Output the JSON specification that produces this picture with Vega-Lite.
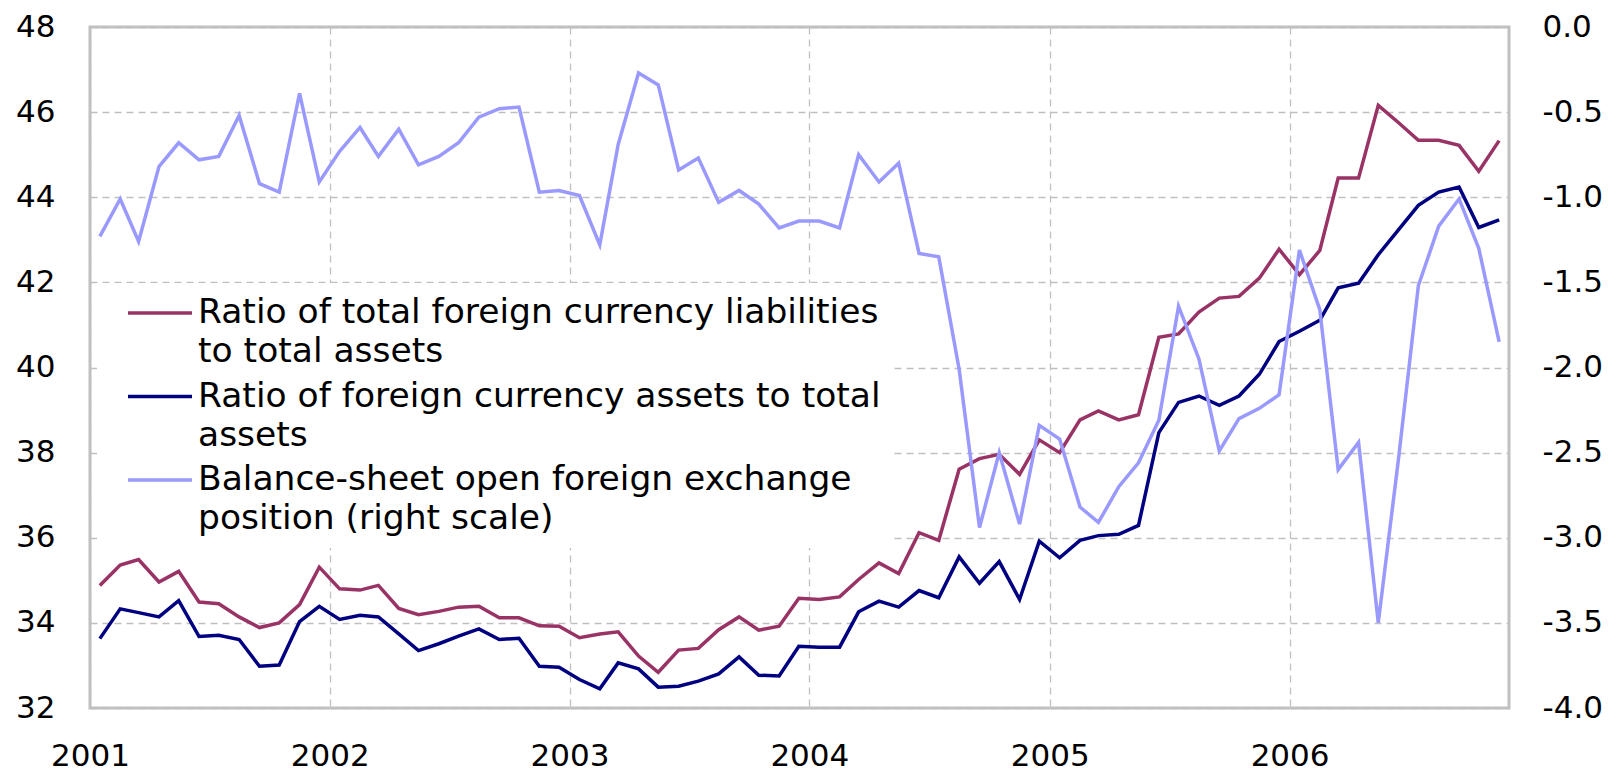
{
  "$schema": "https://vega.github.io/schema/vega-lite/v6.json",
  "width": 1419,
  "height": 681,
  "autosize": {"type": "none"},
  "padding": {"left": 90, "top": 27, "right": 107, "bottom": 66},
  "background": "white",
  "config": {
    "font": "DejaVu Sans",
    "view": {"stroke": "#c0c0c0", "strokeWidth": 3},
    "axis": {
      "labelFont": "DejaVu Sans",
      "labelFontSize": 31,
      "labelColor": "#000000",
      "domain": false,
      "ticks": false,
      "tickSize": 0,
      "title": null,
      "gridColor": "#c0c0c0",
      "gridDash": [7, 5],
      "gridWidth": 1.3
    }
  },
  "data": {
    "values": [
      {"date": "2001-01-16", "series": "liabilities", "value": 34.88},
      {"date": "2001-01-16", "series": "assets", "value": 33.63},
      {"date": "2001-01-16", "series": "open position", "value": -1.23},
      {"date": "2001-02-16", "series": "liabilities", "value": 35.36},
      {"date": "2001-02-16", "series": "assets", "value": 34.33},
      {"date": "2001-02-16", "series": "open position", "value": -1.01},
      {"date": "2001-03-16", "series": "liabilities", "value": 35.49},
      {"date": "2001-03-16", "series": "assets", "value": 34.24},
      {"date": "2001-03-16", "series": "open position", "value": -1.26},
      {"date": "2001-04-16", "series": "liabilities", "value": 34.96},
      {"date": "2001-04-16", "series": "assets", "value": 34.14},
      {"date": "2001-04-16", "series": "open position", "value": -0.82},
      {"date": "2001-05-16", "series": "liabilities", "value": 35.21},
      {"date": "2001-05-16", "series": "assets", "value": 34.52},
      {"date": "2001-05-16", "series": "open position", "value": -0.68},
      {"date": "2001-06-16", "series": "liabilities", "value": 34.49},
      {"date": "2001-06-16", "series": "assets", "value": 33.68},
      {"date": "2001-06-16", "series": "open position", "value": -0.78},
      {"date": "2001-07-16", "series": "liabilities", "value": 34.45},
      {"date": "2001-07-16", "series": "assets", "value": 33.71},
      {"date": "2001-07-16", "series": "open position", "value": -0.76},
      {"date": "2001-08-16", "series": "liabilities", "value": 34.14},
      {"date": "2001-08-16", "series": "assets", "value": 33.61},
      {"date": "2001-08-16", "series": "open position", "value": -0.52},
      {"date": "2001-09-16", "series": "liabilities", "value": 33.89},
      {"date": "2001-09-16", "series": "assets", "value": 32.98},
      {"date": "2001-09-16", "series": "open position", "value": -0.92},
      {"date": "2001-10-16", "series": "liabilities", "value": 34.0},
      {"date": "2001-10-16", "series": "assets", "value": 33.01},
      {"date": "2001-10-16", "series": "open position", "value": -0.97},
      {"date": "2001-11-16", "series": "liabilities", "value": 34.43},
      {"date": "2001-11-16", "series": "assets", "value": 34.03},
      {"date": "2001-11-16", "series": "open position", "value": -0.39},
      {"date": "2001-12-16", "series": "liabilities", "value": 35.31},
      {"date": "2001-12-16", "series": "assets", "value": 34.39},
      {"date": "2001-12-16", "series": "open position", "value": -0.91},
      {"date": "2002-01-16", "series": "liabilities", "value": 34.8},
      {"date": "2002-01-16", "series": "assets", "value": 34.08},
      {"date": "2002-01-16", "series": "open position", "value": -0.73},
      {"date": "2002-02-16", "series": "liabilities", "value": 34.77},
      {"date": "2002-02-16", "series": "assets", "value": 34.18},
      {"date": "2002-02-16", "series": "open position", "value": -0.59},
      {"date": "2002-03-16", "series": "liabilities", "value": 34.88},
      {"date": "2002-03-16", "series": "assets", "value": 34.14},
      {"date": "2002-03-16", "series": "open position", "value": -0.76},
      {"date": "2002-04-16", "series": "liabilities", "value": 34.34},
      {"date": "2002-04-16", "series": "assets", "value": 33.74},
      {"date": "2002-04-16", "series": "open position", "value": -0.6},
      {"date": "2002-05-16", "series": "liabilities", "value": 34.19},
      {"date": "2002-05-16", "series": "assets", "value": 33.35},
      {"date": "2002-05-16", "series": "open position", "value": -0.81},
      {"date": "2002-06-16", "series": "liabilities", "value": 34.27},
      {"date": "2002-06-16", "series": "assets", "value": 33.51},
      {"date": "2002-06-16", "series": "open position", "value": -0.76},
      {"date": "2002-07-16", "series": "liabilities", "value": 34.37},
      {"date": "2002-07-16", "series": "assets", "value": 33.69},
      {"date": "2002-07-16", "series": "open position", "value": -0.68},
      {"date": "2002-08-16", "series": "liabilities", "value": 34.39},
      {"date": "2002-08-16", "series": "assets", "value": 33.86},
      {"date": "2002-08-16", "series": "open position", "value": -0.53},
      {"date": "2002-09-16", "series": "liabilities", "value": 34.12},
      {"date": "2002-09-16", "series": "assets", "value": 33.61},
      {"date": "2002-09-16", "series": "open position", "value": -0.48},
      {"date": "2002-10-16", "series": "liabilities", "value": 34.12},
      {"date": "2002-10-16", "series": "assets", "value": 33.64},
      {"date": "2002-10-16", "series": "open position", "value": -0.47},
      {"date": "2002-11-16", "series": "liabilities", "value": 33.93},
      {"date": "2002-11-16", "series": "assets", "value": 32.98},
      {"date": "2002-11-16", "series": "open position", "value": -0.97},
      {"date": "2002-12-16", "series": "liabilities", "value": 33.92},
      {"date": "2002-12-16", "series": "assets", "value": 32.96},
      {"date": "2002-12-16", "series": "open position", "value": -0.96},
      {"date": "2003-01-16", "series": "liabilities", "value": 33.65},
      {"date": "2003-01-16", "series": "assets", "value": 32.67},
      {"date": "2003-01-16", "series": "open position", "value": -0.99},
      {"date": "2003-02-16", "series": "liabilities", "value": 33.74},
      {"date": "2003-02-16", "series": "assets", "value": 32.45},
      {"date": "2003-02-16", "series": "open position", "value": -1.28},
      {"date": "2003-03-16", "series": "liabilities", "value": 33.79},
      {"date": "2003-03-16", "series": "assets", "value": 33.06},
      {"date": "2003-03-16", "series": "open position", "value": -0.69},
      {"date": "2003-04-16", "series": "liabilities", "value": 33.22},
      {"date": "2003-04-16", "series": "assets", "value": 32.92},
      {"date": "2003-04-16", "series": "open position", "value": -0.27},
      {"date": "2003-05-16", "series": "liabilities", "value": 32.84},
      {"date": "2003-05-16", "series": "assets", "value": 32.49},
      {"date": "2003-05-16", "series": "open position", "value": -0.34},
      {"date": "2003-06-16", "series": "liabilities", "value": 33.36},
      {"date": "2003-06-16", "series": "assets", "value": 32.51},
      {"date": "2003-06-16", "series": "open position", "value": -0.84},
      {"date": "2003-07-16", "series": "liabilities", "value": 33.4},
      {"date": "2003-07-16", "series": "assets", "value": 32.63},
      {"date": "2003-07-16", "series": "open position", "value": -0.77},
      {"date": "2003-08-16", "series": "liabilities", "value": 33.84},
      {"date": "2003-08-16", "series": "assets", "value": 32.8},
      {"date": "2003-08-16", "series": "open position", "value": -1.03},
      {"date": "2003-09-16", "series": "liabilities", "value": 34.14},
      {"date": "2003-09-16", "series": "assets", "value": 33.2},
      {"date": "2003-09-16", "series": "open position", "value": -0.96},
      {"date": "2003-10-16", "series": "liabilities", "value": 33.83},
      {"date": "2003-10-16", "series": "assets", "value": 32.77},
      {"date": "2003-10-16", "series": "open position", "value": -1.04},
      {"date": "2003-11-16", "series": "liabilities", "value": 33.92},
      {"date": "2003-11-16", "series": "assets", "value": 32.75},
      {"date": "2003-11-16", "series": "open position", "value": -1.18},
      {"date": "2003-12-16", "series": "liabilities", "value": 34.58},
      {"date": "2003-12-16", "series": "assets", "value": 33.45},
      {"date": "2003-12-16", "series": "open position", "value": -1.14},
      {"date": "2004-01-16", "series": "liabilities", "value": 34.55},
      {"date": "2004-01-16", "series": "assets", "value": 33.43},
      {"date": "2004-01-16", "series": "open position", "value": -1.14},
      {"date": "2004-02-16", "series": "liabilities", "value": 34.61},
      {"date": "2004-02-16", "series": "assets", "value": 33.43},
      {"date": "2004-02-16", "series": "open position", "value": -1.18},
      {"date": "2004-03-16", "series": "liabilities", "value": 35.02},
      {"date": "2004-03-16", "series": "assets", "value": 34.26},
      {"date": "2004-03-16", "series": "open position", "value": -0.75},
      {"date": "2004-04-16", "series": "liabilities", "value": 35.41},
      {"date": "2004-04-16", "series": "assets", "value": 34.51},
      {"date": "2004-04-16", "series": "open position", "value": -0.91},
      {"date": "2004-05-16", "series": "liabilities", "value": 35.16},
      {"date": "2004-05-16", "series": "assets", "value": 34.37},
      {"date": "2004-05-16", "series": "open position", "value": -0.8},
      {"date": "2004-06-16", "series": "liabilities", "value": 36.12},
      {"date": "2004-06-16", "series": "assets", "value": 34.76},
      {"date": "2004-06-16", "series": "open position", "value": -1.33},
      {"date": "2004-07-16", "series": "liabilities", "value": 35.94},
      {"date": "2004-07-16", "series": "assets", "value": 34.59},
      {"date": "2004-07-16", "series": "open position", "value": -1.35},
      {"date": "2004-08-16", "series": "liabilities", "value": 37.61},
      {"date": "2004-08-16", "series": "assets", "value": 35.55},
      {"date": "2004-08-16", "series": "open position", "value": -2.01},
      {"date": "2004-09-16", "series": "liabilities", "value": 37.86},
      {"date": "2004-09-16", "series": "assets", "value": 34.93},
      {"date": "2004-09-16", "series": "open position", "value": -2.94},
      {"date": "2004-10-16", "series": "liabilities", "value": 37.96},
      {"date": "2004-10-16", "series": "assets", "value": 35.44},
      {"date": "2004-10-16", "series": "open position", "value": -2.5},
      {"date": "2004-11-16", "series": "liabilities", "value": 37.49},
      {"date": "2004-11-16", "series": "assets", "value": 34.55},
      {"date": "2004-11-16", "series": "open position", "value": -2.92},
      {"date": "2004-12-16", "series": "liabilities", "value": 38.3},
      {"date": "2004-12-16", "series": "assets", "value": 35.92},
      {"date": "2004-12-16", "series": "open position", "value": -2.34},
      {"date": "2005-01-16", "series": "liabilities", "value": 38.0},
      {"date": "2005-01-16", "series": "assets", "value": 35.53},
      {"date": "2005-01-16", "series": "open position", "value": -2.42},
      {"date": "2005-02-16", "series": "liabilities", "value": 38.77},
      {"date": "2005-02-16", "series": "assets", "value": 35.94},
      {"date": "2005-02-16", "series": "open position", "value": -2.82},
      {"date": "2005-03-16", "series": "liabilities", "value": 38.98},
      {"date": "2005-03-16", "series": "assets", "value": 36.05},
      {"date": "2005-03-16", "series": "open position", "value": -2.91},
      {"date": "2005-04-16", "series": "liabilities", "value": 38.77},
      {"date": "2005-04-16", "series": "assets", "value": 36.08},
      {"date": "2005-04-16", "series": "open position", "value": -2.7},
      {"date": "2005-05-16", "series": "liabilities", "value": 38.89},
      {"date": "2005-05-16", "series": "assets", "value": 36.29},
      {"date": "2005-05-16", "series": "open position", "value": -2.56},
      {"date": "2005-06-16", "series": "liabilities", "value": 40.71},
      {"date": "2005-06-16", "series": "assets", "value": 38.47},
      {"date": "2005-06-16", "series": "open position", "value": -2.31},
      {"date": "2005-07-16", "series": "liabilities", "value": 40.79},
      {"date": "2005-07-16", "series": "assets", "value": 39.18},
      {"date": "2005-07-16", "series": "open position", "value": -1.64},
      {"date": "2005-08-16", "series": "liabilities", "value": 41.3},
      {"date": "2005-08-16", "series": "assets", "value": 39.33},
      {"date": "2005-08-16", "series": "open position", "value": -1.95},
      {"date": "2005-09-16", "series": "liabilities", "value": 41.63},
      {"date": "2005-09-16", "series": "assets", "value": 39.11},
      {"date": "2005-09-16", "series": "open position", "value": -2.49},
      {"date": "2005-10-16", "series": "liabilities", "value": 41.67},
      {"date": "2005-10-16", "series": "assets", "value": 39.33},
      {"date": "2005-10-16", "series": "open position", "value": -2.3},
      {"date": "2005-11-16", "series": "liabilities", "value": 42.1},
      {"date": "2005-11-16", "series": "assets", "value": 39.84},
      {"date": "2005-11-16", "series": "open position", "value": -2.24},
      {"date": "2005-12-16", "series": "liabilities", "value": 42.78},
      {"date": "2005-12-16", "series": "assets", "value": 40.61},
      {"date": "2005-12-16", "series": "open position", "value": -2.16},
      {"date": "2006-01-16", "series": "liabilities", "value": 42.18},
      {"date": "2006-01-16", "series": "assets", "value": 40.85},
      {"date": "2006-01-16", "series": "open position", "value": -1.31},
      {"date": "2006-02-16", "series": "liabilities", "value": 42.75},
      {"date": "2006-02-16", "series": "assets", "value": 41.11},
      {"date": "2006-02-16", "series": "open position", "value": -1.66},
      {"date": "2006-03-16", "series": "liabilities", "value": 44.45},
      {"date": "2006-03-16", "series": "assets", "value": 41.87},
      {"date": "2006-03-16", "series": "open position", "value": -2.6},
      {"date": "2006-04-16", "series": "liabilities", "value": 44.45},
      {"date": "2006-04-16", "series": "assets", "value": 41.98},
      {"date": "2006-04-16", "series": "open position", "value": -2.44},
      {"date": "2006-05-16", "series": "liabilities", "value": 46.16},
      {"date": "2006-05-16", "series": "assets", "value": 42.65},
      {"date": "2006-05-16", "series": "open position", "value": -3.5},
      {"date": "2006-06-16", "series": "liabilities", "value": 45.75},
      {"date": "2006-06-16", "series": "assets", "value": 43.24},
      {"date": "2006-06-16", "series": "open position", "value": -2.53},
      {"date": "2006-07-16", "series": "liabilities", "value": 45.34},
      {"date": "2006-07-16", "series": "assets", "value": 43.81},
      {"date": "2006-07-16", "series": "open position", "value": -1.52},
      {"date": "2006-08-16", "series": "liabilities", "value": 45.34},
      {"date": "2006-08-16", "series": "assets", "value": 44.12},
      {"date": "2006-08-16", "series": "open position", "value": -1.17},
      {"date": "2006-09-16", "series": "liabilities", "value": 45.22},
      {"date": "2006-09-16", "series": "assets", "value": 44.24},
      {"date": "2006-09-16", "series": "open position", "value": -1.01},
      {"date": "2006-10-16", "series": "liabilities", "value": 44.61},
      {"date": "2006-10-16", "series": "assets", "value": 43.29},
      {"date": "2006-10-16", "series": "open position", "value": -1.3},
      {"date": "2006-11-16", "series": "liabilities", "value": 45.33},
      {"date": "2006-11-16", "series": "assets", "value": 43.47},
      {"date": "2006-11-16", "series": "open position", "value": -1.85}
    ]
  },
  "encoding": {
    "x": {
      "field": "date",
      "type": "temporal",
      "scale": {
        "type": "utc",
        "domain": [
          {"year": 2001, "month": 1, "date": 1, "utc": true},
          {"year": 2006, "month": 12, "date": 1, "utc": true}
        ]
      },
      "axis": {
        "values": [
          {"year": 2001, "month": 1, "date": 1, "utc": true},
          {"year": 2002, "month": 1, "date": 1, "utc": true},
          {"year": 2003, "month": 1, "date": 1, "utc": true},
          {"year": 2004, "month": 1, "date": 1, "utc": true},
          {"year": 2005, "month": 1, "date": 1, "utc": true},
          {"year": 2006, "month": 1, "date": 1, "utc": true}
        ],
        "format": "%Y",
        "formatType": "utc",
        "labelPadding": 33,
        "labelDx": 9,
        "labelAlign": "center",
        "labelFlush": false,
        "labelOverlap": false,
        "grid": true
      }
    },
    "color": {
      "field": "series",
      "type": "nominal",
      "scale": {
        "domain": ["liabilities", "assets", "open position"],
        "range": ["#993366", "#000080", "#9999ff"]
      },
      "legend": {
        "orient": "none",
        "legendX": 7,
        "legendY": 256,
        "title": null,
        "fillColor": "white",
        "strokeColor": null,
        "padding": 12,
        "symbolType": "M-2,0H2",
        "symbolSize": 1024,
        "symbolStrokeWidth": 3.5,
        "symbolOffset": 33,
        "labelFont": "DejaVu Sans",
        "labelFontSize": 34.5,
        "labelColor": "#000000",
        "labelLimit": 1000,
        "labelOffset": 20,
        "rowPadding": 9.5,
        "labelBaseline": "middle",
        "labelExpr": "datum.label == 'liabilities' ? ['Ratio of total foreign currency liabilities', 'to total assets'] : datum.label == 'assets' ? ['Ratio of foreign currency assets to total', 'assets'] : ['Balance-sheet open foreign exchange', 'position (right scale)']",
        "encode": {
          "labels": {"update": {"lineHeight": {"value": 39}}}
        }
      }
    }
  },
  "layer": [
    {
      "transform": [{"filter": "datum.series != 'open position'"}],
      "mark": {"type": "line", "strokeWidth": 3.5},
      "encoding": {
        "y": {
          "field": "value",
          "type": "quantitative",
          "scale": {"domain": [32, 48], "nice": false, "zero": false},
          "axis": {
            "values": [32, 34, 36, 38, 40, 42, 44, 46, 48],
            "format": "d",
            "grid": true,
            "labelPadding": 35
          }
        }
      }
    },
    {
      "transform": [{"filter": "datum.series == 'open position'"}],
      "mark": {"type": "line", "strokeWidth": 3.5},
      "encoding": {
        "y": {
          "field": "value",
          "type": "quantitative",
          "scale": {"domain": [-4, 0], "nice": false, "zero": false},
          "axis": {
            "orient": "right",
            "values": [-4, -3.5, -3, -2.5, -2, -1.5, -1, -0.5, 0],
            "labelExpr": "replace(format(datum.value, '.1f'), '\u2212', '-')",
            "grid": false,
            "labelPadding": 33
          }
        }
      }
    }
  ],
  "resolve": {"scale": {"y": "independent"}}
}
